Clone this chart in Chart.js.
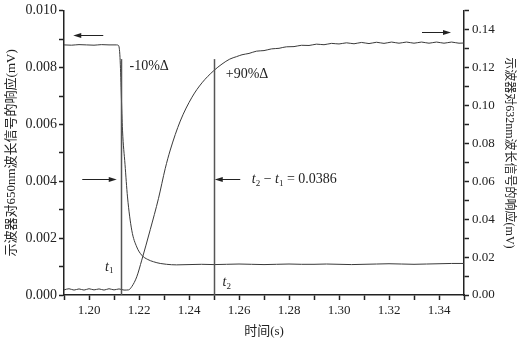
<!DOCTYPE html>
<html>
<head>
<meta charset="utf-8">
<script src="https://cdn.jsdelivr.net/npm/chart.js@4.4.1/dist/chart.umd.min.js"></script>
<style>
  html, body { margin: 0; padding: 0; background: #fff; }
  #wrap { width: 519px; height: 340px; }
</style>
</head>
<body>
<div id="wrap"><canvas id="responseChart" width="519" height="340"></canvas></div>
<script>
// 650nm response (left axis, mV)
const time650 = [1.190, 1.193, 1.196, 1.199, 1.202, 1.205, 1.208, 1.211, 1.2118,
  1.2124, 1.2134, 1.2144, 1.2154, 1.2171, 1.2191, 1.2211, 1.2235, 1.2258, 1.2285, 1.231,
  1.235, 1.240, 1.245, 1.250, 1.255, 1.260, 1.265, 1.270, 1.275, 1.280, 1.285, 1.290,
  1.295, 1.300, 1.305, 1.310, 1.315, 1.320, 1.325, 1.330, 1.335, 1.340, 1.345, 1.350];
const resp650 = [0.00880, 0.00879, 0.00881, 0.00880, 0.00879, 0.00881, 0.00880, 0.00880, 0.00878,
  0.00836, 0.00580, 0.00460, 0.00345, 0.00228, 0.00169, 0.00140, 0.00125, 0.00117, 0.00111, 0.00108,
  0.00106, 0.00107, 0.00108, 0.00107, 0.00108, 0.00109, 0.00108, 0.00107, 0.00108, 0.00109, 0.00108, 0.00108,
  0.00109, 0.00108, 0.00107, 0.00108, 0.00109, 0.00110, 0.00109, 0.00108, 0.00109, 0.00110, 0.00111, 0.00111];

// 632nm response (right axis, mV)
const time632 = [1.190, 1.192, 1.194, 1.196, 1.198, 1.200, 1.202, 1.204, 1.206, 1.208, 1.210, 1.212, 1.214,
  1.2158, 1.2171, 1.2191, 1.2211, 1.2245, 1.2278, 1.2305, 1.2325, 1.2365, 1.2412, 1.2452, 1.2499,
  1.2532, 1.2563, 1.2590, 1.2612, 1.2640, 1.2670, 1.2700, 1.2730, 1.2760, 1.2790, 1.2820, 1.2850,
  1.2880, 1.2910, 1.2940, 1.2970, 1.3000, 1.3030, 1.3060, 1.3090, 1.3120, 1.3150, 1.3180, 1.3210,
  1.3240, 1.3270, 1.3300, 1.3330, 1.3360, 1.3390, 1.3420, 1.3450, 1.3480, 1.3500];
const resp632 = [0.0027, 0.0033, 0.0026, 0.0032, 0.0026, 0.0033, 0.0027, 0.0032, 0.0026, 0.0033, 0.0027, 0.0032, 0.0026,
  0.0027, 0.0044, 0.0096, 0.0184, 0.0345, 0.0510, 0.0668, 0.0765, 0.0918, 0.1044, 0.1120, 0.1184,
  0.1219, 0.1245, 0.1258, 0.1268, 0.1275, 0.1287, 0.1290, 0.1299, 0.1302, 0.1310, 0.1311, 0.1318,
  0.1317, 0.1324, 0.1321, 0.1328, 0.1325, 0.1331, 0.1326, 0.1333, 0.1327, 0.1334, 0.1328, 0.1335,
  0.1329, 0.1335, 0.1329, 0.1335, 0.1329, 0.1335, 0.1329, 0.1335, 0.1329, 0.1330];

// t1 / t2 markers (s) and the printed difference
const markerTimes = [1.2127, 1.2499];
const deltaLabel = '0.0386';

const SERIF = "'Liberation Serif', 'Times New Roman', 'Noto Sans CJK SC', serif";
const INK = '#222';

const toPoints = (xs, ys) => xs.map((x, i) => ({ x, y: ys[i] }));

// fixed axis sizes so the plot box lands where the reference has it
const fixWidth = (w) => (scale) => { scale.width = w; };
const fixHeight = (h) => (scale) => { scale.height = h; };

// arrows, marker lines and labels, placed in data units through the scales
const annotations = {
  id: 'annotations',
  afterDatasetsDraw(chart) {
    const { ctx, scales } = chart;
    const x = scales.x, yL = scales.yLeft;
    const px = (t) => x.getPixelForValue(t);
    const py = (v) => yL.getPixelForValue(v);

    ctx.save();
    // vertical marker lines
    ctx.strokeStyle = '#555';
    ctx.lineWidth = 1.5;
    for (const t of markerTimes) {
      ctx.beginPath();
      ctx.moveTo(Math.round(px(t)) + 0.5, py(0));
      ctx.lineTo(Math.round(px(t)) + 0.5, py(0.0083));
      ctx.stroke();
    }

    const arrow = (x0, x1, yv) => {
      const a = px(x0), b = px(x1), y = Math.round(py(yv)) + 0.5;
      const dir = Math.sign(b - a);
      ctx.strokeStyle = INK;
      ctx.fillStyle = INK;
      ctx.lineWidth = 1;
      ctx.beginPath();
      ctx.moveTo(a, y);
      ctx.lineTo(b - dir * 6, y);
      ctx.stroke();
      ctx.beginPath();
      ctx.moveTo(b, y);
      ctx.lineTo(b - dir * 8, y - 2.5);
      ctx.lineTo(b - dir * 8, y + 2.5);
      ctx.closePath();
      ctx.fill();
    };
    arrow(1.2057, 1.1937, 0.00915);   // 650nm curve -> left axis
    arrow(1.3332, 1.3448, 0.00924);   // 632nm curve -> right axis
    arrow(1.1973, 1.2111, 0.00407);
    arrow(1.2605, 1.2503, 0.00407);

    ctx.fillStyle = INK;
    ctx.textBaseline = 'middle';
    ctx.textAlign = 'left';
    ctx.font = `14px ${SERIF}`;
    ctx.fillText('-10%Δ', px(1.2162), py(0.00806));
    ctx.fillText('+90%Δ', px(1.2547), py(0.00778));

    // italic t with a subscript index, returns the x after it
    const tSub = (n, xs, y) => {
      ctx.font = `italic 14px ${SERIF}`;
      ctx.fillText('t', xs, y);
      const w = ctx.measureText('t').width;
      ctx.font = `9px ${SERIF}`;
      ctx.fillText(n, xs + w, y + 4);
      return xs + w + ctx.measureText(n).width;
    };
    tSub('1', px(1.2064), py(0.00099));
    tSub('2', px(1.2534), py(0.00043));

    let cx = px(1.2651);
    const ty = py(0.00407);
    cx = tSub('2', cx, ty);
    ctx.font = `14px ${SERIF}`;
    ctx.fillText(' − ', cx, ty);
    cx += ctx.measureText(' − ').width;
    cx = tSub('1', cx, ty);
    ctx.font = `14px ${SERIF}`;
    ctx.fillText(' = ' + deltaLabel, cx, ty);
    ctx.restore();
  }
};

const axisCommon = {
  border: { display: true, color: INK, width: 1.5 },
  grid: { drawOnChartArea: false, drawTicks: true, tickLength: 5, color: INK, tickWidth: 1.5 },
};

new Chart(document.getElementById('responseChart'), {
  type: 'line',
  data: {
    datasets: [
      {
        label: '650nm',
        data: toPoints(time650, resp650),
        yAxisID: 'yLeft',
        borderColor: '#3a3a3a',
        borderWidth: 1,
        pointRadius: 0,
        cubicInterpolationMode: 'monotone',
      },
      {
        label: '632nm',
        data: toPoints(time632, resp632),
        yAxisID: 'yRight',
        borderColor: '#3a3a3a',
        borderWidth: 1,
        pointRadius: 0,
        cubicInterpolationMode: 'monotone',
      },
    ],
  },
  options: {
    responsive: false,
    animation: false,
    layout: { padding: { top: 10, left: 0, right: 0, bottom: 0 } },
    plugins: {
      legend: { display: false },
      tooltip: { enabled: false },
    },
    scales: {
      x: {
        type: 'linear',
        min: 1.19,
        max: 1.35,
        afterFit: fixHeight(45),
        ...axisCommon,
        ticks: {
          stepSize: 0.01,
          autoSkip: false,
          maxRotation: 0,
          padding: 3,
          color: INK,
          font: { family: SERIF, size: 13 },
          callback: (v) => (Math.round(v * 100) % 2 === 0 ? v.toFixed(2) : ''),
        },
        title: {
          display: true,
          text: '时间(s)',
          color: INK,
          font: { family: SERIF, size: 13 },
          padding: { top: 1, bottom: 1 },
        },
      },
      yLeft: {
        type: 'linear',
        position: 'left',
        min: 0,
        max: 0.010,
        afterFit: fixWidth(64),
        ...axisCommon,
        ticks: {
          stepSize: 0.001,
          autoSkip: false,
          padding: 2,
          color: INK,
          font: { family: SERIF, size: 14 },
          callback: (v) => (Math.round(v * 1000) % 2 === 0 ? v.toFixed(3) : ''),
        },
        title: {
          display: true,
          text: '示波器对650nm波长信号的响应(mV)',
          color: INK,
          font: { family: SERIF, size: 13 },
          padding: { top: 4, bottom: 0 },
        },
      },
      yRight: {
        type: 'linear',
        position: 'right',
        min: 0,
        max: 0.15,
        afterFit: fixWidth(55),
        ...axisCommon,
        ticks: {
          stepSize: 0.01,
          autoSkip: false,
          padding: 3,
          color: INK,
          font: { family: SERIF, size: 13 },
          callback: (v) => (Math.round(v * 100) % 2 === 0 ? v.toFixed(2) : ''),
        },
        title: {
          display: true,
          text: '示波器对632nm波长信号的响应(mV)',
          color: INK,
          font: { family: SERIF, size: 12 },
          padding: { top: 3, bottom: 0 },
        },
      },
    },
  },
  plugins: [annotations],
});
</script>
</body>
</html>
